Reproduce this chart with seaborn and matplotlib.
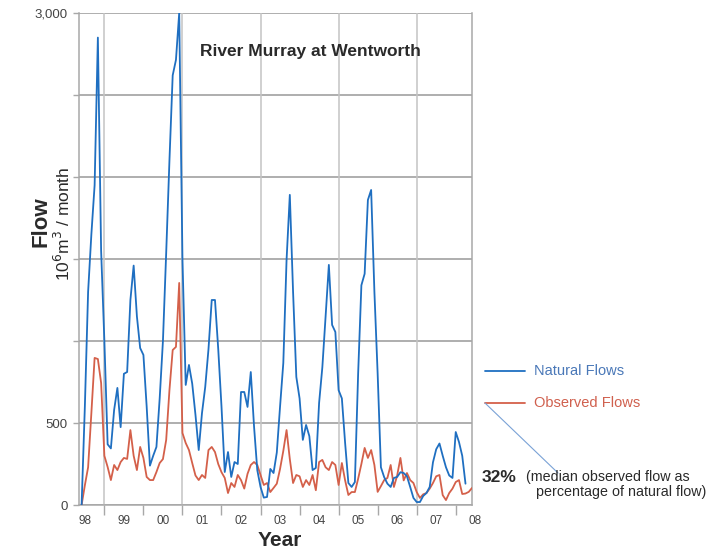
import numpy as np
import pandas as pd
import matplotlib
matplotlib.use("Agg")
import matplotlib.pyplot as plt
import seaborn as sns
from matplotlib.lines import Line2D

# ---- data (monthly, starting mid-1998) ----
natural = [0, 600, 1300, 1650, 1950, 2850, 1550, 1000, 370, 345,
           580, 714, 475, 800, 811, 1250, 1460, 1150, 957, 915,
           600, 240, 300, 354, 650, 1000, 1537, 2100, 2620, 2714,
           3000, 1500, 732, 854, 740, 550, 335, 560, 720, 950,
           1250, 1250, 950, 600, 201, 323, 171, 262, 250, 689,
           689, 598, 811, 480, 213, 110, 45, 49, 220, 195,
           320, 600, 866, 1494, 1891, 1300, 781, 650, 397, 488,
           420, 213, 226, 622, 840, 1150, 1464, 1098, 1055, 700,
           650, 378, 134, 110, 140, 800, 1340, 1410, 1860, 1921,
           1300, 800, 230, 170, 130, 110, 165, 171, 200, 195,
           175, 110, 43, 18, 18, 55, 73, 110, 260, 340,
           375, 300, 230, 180, 165, 445, 384, 300, 130]
observed = [0, 120, 230, 560, 897, 890, 744, 300, 232, 152,
            244, 213, 262, 287, 281, 457, 300, 213, 354, 287,
            171, 152, 152, 201, 256, 280, 397, 700, 945, 964,
            1354, 439, 378, 335, 256, 180, 152, 183, 165, 335,
            354, 323, 250, 200, 165, 73, 134, 110, 183, 152,
            100, 190, 244, 262, 244, 183, 122, 134, 79, 104,
            130, 220, 330, 457, 280, 134, 183, 175, 110, 152,
            122, 183, 90, 262, 275, 230, 213, 262, 244, 122,
            256, 150, 61, 79, 79, 160, 250, 348, 287, 335,
            244, 80, 115, 152, 165, 244, 110, 180, 287, 150,
            195, 152, 134, 79, 43, 65, 73, 100, 134, 175,
            183, 60, 30, 73, 100, 140, 152, 67, 70, 80, 104]
year_labels = ["98", "99", "00", "01", "02", "03", "04", "05", "06", "07", "08"]
y_grid_values = [0, 500, 1000, 1500, 2000, 2500, 3000]
y_tick_labels = ["0", "500", "", "", "", "", "3,000"]
series_names = ["Natural Flows", "Observed Flows"]

BLUE = "#1f6fc1"
RED = "#d4604a"
GRID = "#a8a8a8"
TXT = "#2a2a2a"

sns.set_theme(style="white")
plt.rcParams['font.family'] = ['Liberation Sans', 'DejaVu Sans']

W, H = 710, 551
fig = plt.figure(figsize=(W / 100, H / 100), dpi=100)
ax = fig.add_axes([79 / W, 1 - 505 / H, 393 / W, 492 / H])

df_nat = pd.DataFrame({"month": np.arange(len(natural)), "flow": natural})
df_obs = pd.DataFrame({"month": np.arange(len(observed)), "flow": observed})
sns.lineplot(data=df_obs, x="month", y="flow", color=RED, lw=1.3, ax=ax, zorder=3)
sns.lineplot(data=df_nat, x="month", y="flow", color=BLUE, lw=1.3, ax=ax, zorder=4)

ax.set_xlim(-0.8, 120)
ax.set_ylim(0, 3000)

# y axis
ax.set_yticks(y_grid_values)
ax.set_yticklabels(y_tick_labels)
ax.tick_params(axis="y", length=4, color=GRID, width=1, labelsize=9.5,
               labelcolor="#444444", pad=4, left=True)
ax.yaxis.grid(True, color=GRID, lw=1.3)
ax.set_axisbelow(True)

# x axis: year boundaries (ticks) and mid-year labels
boundaries = [7 + 12 * k for k in range(10)]
ax.set_xticks(boundaries)
ax.set_xticklabels([])
ax.tick_params(axis="x", length=7, color=GRID, width=1, bottom=True)
for b in boundaries[::2]:
    ax.axvline(b, color="#c4c4c4", lw=1.1, zorder=1)
for k, lab in enumerate(year_labels):
    ax.text(1 + 12 * k, -0.02, lab, transform=ax.get_xaxis_transform(),
            ha="center", va="top", fontsize=8.5, color="#444444")

for s in ["left", "bottom", "right", "top"]:
    ax.spines[s].set_color(GRID)
    ax.spines[s].set_linewidth(1.1)
ax.spines["top"].set_visible(False)

ax.set_xlabel("")
ax.set_ylabel("")

# labels
fig.text(280 / W, 1 - 540 / H, "Year", ha="center", va="center",
         fontsize=15, fontweight="bold", color=TXT)
fig.text(41 / W, 1 - 222 / H, "Flow", ha="center", va="center", rotation=90,
         fontsize=16, fontweight="bold", color=TXT)
fig.text(63 / W, 1 - 224 / H, r"10$^6$m$^3$ / month", ha="center", va="center",
         rotation=90, fontsize=12.5, color=TXT)
ax.text(0.59, 0.922, "River Murray at Wentworth", transform=ax.transAxes,
        ha="center", va="center", fontsize=12.5, fontweight="bold", color=TXT)

# legend (manual)
def fx(x):
    return x / W

def fy(y):
    return 1 - y / H

fig.add_artist(Line2D([fx(485), fx(525)], [fy(371), fy(371)], color=BLUE, lw=1.3))
fig.add_artist(Line2D([fx(485), fx(525)], [fy(403), fy(403)], color=RED, lw=1.3))
fig.text(fx(534), fy(371), series_names[0], ha="left", va="center",
         fontsize=10.5, color="#4a78b8")
fig.text(fx(534), fy(403), series_names[1], ha="left", va="center",
         fontsize=10.5, color="#d0604e")
fig.add_artist(Line2D([fx(485), fx(558)], [fy(403), fy(473)], color="#7aa2d6", lw=0.8))
fig.text(fx(482), fy(478), "32%", ha="left", va="center", fontsize=12.5,
         fontweight="bold", color=TXT)
fig.text(fx(526), fy(477), "(median observed flow as", ha="left", va="center",
         fontsize=10.3, color=TXT)
fig.text(fx(536), fy(492), "percentage of natural flow)", ha="left", va="center",
         fontsize=10.3, color=TXT)

fig.savefig("out.png", dpi=100)
